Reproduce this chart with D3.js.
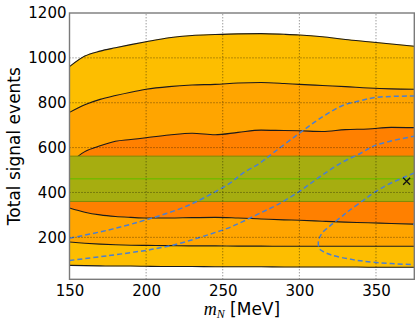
<!DOCTYPE html>
<html>
<head>
<meta charset="utf-8">
<script src="https://cdn.jsdelivr.net/npm/d3@7"></script>
<style>
  body { margin: 0; background: #fff; }
  svg { display: block; font-family: "DejaVu Sans", sans-serif; }
</style>
</head>
<body>
<main></main>
<script>
// mass grid shared by the contour lines
const massGrid = [150, 160, 170, 180, 190, 200, 215, 230, 245, 260, 275, 290, 300, 315, 330, 345, 360, 375]

// contour levels, outermost upper to outermost lower
const upper3 = [961, 1008, 1030, 1045, 1059, 1072, 1090, 1100, 1104, 1107, 1108, 1105, 1102, 1094, 1082, 1072, 1062, 1052]
const upper2 = [757, 791, 815, 832, 847, 860, 872, 879, 882, 888, 890, 886, 882, 877, 872, 866, 862, 860]
const upper1 = [530, 582, 608, 628, 636, 644, 656, 664, 657, 668, 678, 676, 675, 672, 680, 683, 690, 689]
const lower1 = [331, 312, 300, 293, 289, 286, 286, 288, 289, 286, 282, 278, 276, 272, 268, 265, 262, 259]
const lower2 = [179, 174, 170, 167, 165, 164, 163, 162, 162, 161, 161, 160, 160, 160, 160, 160, 160, 160]
const lower3 = [75, 74, 73, 72, 72, 71, 70, 70, 69, 69, 69, 68, 68, 68, 68, 67, 67, 67]

// measured band
const measured = { central: 461, low: 360, high: 562 }

// dashed curves [mN, events]
const dashedUpper = [[150, 196], [175, 232], [196, 270], [209, 297], [222, 327], [233, 360], [244, 399],
  [255, 443], [263, 485], [274, 530], [284, 582], [300, 664], [313.5, 730], [329, 790], [340, 809], [350, 824], [375, 830]]
const dashedLower = [[150, 97], [175, 118], [200, 142], [205, 148], [218, 166], [231, 191], [242, 215], [253, 240],
  [263, 270], [274, 307], [285, 343], [300, 405], [313, 468], [327, 531], [340, 575], [350, 611], [375, 651]]
const dashedLoop = [[375, 487], [358, 436], [348, 396], [342, 366], [333, 322], [329, 300], [320, 251], [314.6, 217],
  [312.4, 180], [313, 151], [315.7, 136], [321, 121], [333, 103], [348, 89], [375, 78]]
const dashedTip = [[376.5, 268], [374.6, 258], [376.5, 248]]

const bestFit = [370, 450]

const xTicks = [150, 200, 250, 300, 350]
const yTicks = [200, 400, 600, 800, 1000, 1200]

const light = "#fdbe00"
const mid = "#ffa500"
const dark = "#ff8000"

const w = 420
const h = 326
const margin = { top: 13, right: 5.7, bottom: 46.7, left: 69.5 }

const svg = d3.select("main").append("svg").attr("width", w).attr("height", h)

const x = d3.scaleLinear().domain([150, 375]).range([margin.left, w - margin.right])
const y = d3.scaleLinear().domain([13, 1200]).range([h - margin.bottom, margin.top])

svg.append("clipPath").attr("id", "plot")
  .append("rect")
  .attr("x", x.range()[0]).attr("y", y.range()[1])
  .attr("width", x.range()[1] - x.range()[0])
  .attr("height", y.range()[0] - y.range()[1])

const plot = svg.append("g").attr("clip-path", "url(#plot)")

// filled bands between adjacent contours
const bands = [
  [upper3, upper2, light],
  [upper2, upper1, mid],
  [upper1, lower1, dark],
  [lower1, lower2, mid],
  [lower2, lower3, light],
]

const area = (top, bottom) => d3.area()
  .x((d, i) => x(massGrid[i]))
  .y0((d, i) => y(bottom[i]))
  .y1((d, i) => y(top[i]))
  .curve(d3.curveMonotoneX)(massGrid)

plot.selectAll(".band")
  .data(bands)
  .enter()
  .append("path")
  .attr("class", "band")
  .attr("d", (d) => area(d[0], d[1]))
  .attr("fill", (d) => d[2])
  .attr("stroke", (d) => d[2])
  .attr("stroke-width", 0.6)

const contourLine = d3.line()
  .x((d, i) => x(massGrid[i]))
  .y((d) => y(d))
  .curve(d3.curveMonotoneX)

plot.selectAll(".contour")
  .data([upper3, upper2, upper1, lower1, lower2, lower3])
  .enter()
  .append("path")
  .attr("d", contourLine)
  .attr("fill", "none")
  .attr("stroke", "#1a1a1a")
  .attr("stroke-width", 1.1)

// measured band
plot.append("rect")
  .attr("x", x(150))
  .attr("width", x(375) - x(150))
  .attr("y", y(measured.high))
  .attr("height", y(measured.low) - y(measured.high))
  .attr("fill", "#a6ad10")
  .attr("stroke", "#7f8a08")
  .attr("stroke-width", 1)

plot.append("line")
  .attr("x1", x(150)).attr("x2", x(375))
  .attr("y1", y(measured.central)).attr("y2", y(measured.central))
  .attr("stroke", "#76b800")
  .attr("stroke-width", 1.5)

// grid
const grid = svg.append("g")
  .attr("stroke", "#000")
  .attr("stroke-opacity", 0.7)
  .attr("stroke-width", 0.8)
  .attr("stroke-dasharray", "1,2")

grid.selectAll(".gx")
  .data(xTicks.slice(1))
  .enter()
  .append("line")
  .attr("x1", (d) => x(d)).attr("x2", (d) => x(d))
  .attr("y1", y.range()[0]).attr("y2", y.range()[1])

grid.selectAll(".gy")
  .data(yTicks.slice(0, -1))
  .enter()
  .append("line")
  .attr("y1", (d) => y(d)).attr("y2", (d) => y(d))
  .attr("x1", x.range()[0]).attr("x2", x.range()[1])

// dashed curves
const curveLine = d3.line()
  .x((d) => x(d[0]))
  .y((d) => y(d[1]))
  .curve(d3.curveCatmullRom)

plot.selectAll(".dashed")
  .data([dashedUpper, dashedLower, dashedLoop, dashedTip])
  .enter()
  .append("path")
  .attr("d", curveLine)
  .attr("fill", "none")
  .attr("stroke", "#4a7fd2")
  .attr("stroke-width", 1.5)
  .attr("stroke-dasharray", "5,3")

// best fit marker
plot.append("path")
  .attr("transform", `translate(${x(bestFit[0])}, ${y(bestFit[1])})`)
  .attr("d", "M-3.5,-3.5L3.5,3.5M-3.5,3.5L3.5,-3.5")
  .attr("stroke", "#111")
  .attr("stroke-width", 1.3)

// frame
svg.append("rect")
  .attr("x", x.range()[0]).attr("y", y.range()[1])
  .attr("width", x.range()[1] - x.range()[0])
  .attr("height", y.range()[0] - y.range()[1])
  .attr("fill", "none")
  .attr("stroke", "#7a7a7a")
  .attr("stroke-width", 1.4)

// axes
const xAxis = d3.axisBottom(x).tickValues(xTicks).tickFormat(d3.format("d")).tickSize(0).tickPadding(6)
const yAxis = d3.axisLeft(y).tickValues(yTicks).tickFormat(d3.format("d")).tickSize(0).tickPadding(3)

const gx = svg.append("g")
  .attr("transform", `translate(0, ${y.range()[0]})`)
  .call(xAxis)
const gy = svg.append("g")
  .attr("transform", `translate(${x.range()[0]}, 0)`)
  .call(yAxis)

for (const g of [gx, gy]) {
  g.select(".domain").remove()
  g.selectAll("text")
    .attr("font-family", "DejaVu Sans")
    .attr("font-size", 15)
    .attr("fill", "#000")
}

// axis titles
svg.append("text")
  .attr("transform", `translate(20, ${(y.range()[0] + y.range()[1]) / 2}) rotate(-90)`)
  .attr("text-anchor", "middle")
  .attr("font-size", 17)
  .text("Total signal events")

const xTitle = svg.append("text")
  .attr("x", (x.range()[0] + x.range()[1]) / 2)
  .attr("y", 315)
  .attr("text-anchor", "middle")
  .attr("font-size", 17)

xTitle.append("tspan")
  .attr("font-family", "Liberation Serif")
  .attr("font-style", "italic")
  .attr("font-size", 18)
  .text("m")
xTitle.append("tspan")
  .attr("font-family", "Liberation Serif")
  .attr("font-style", "italic")
  .attr("font-size", 12)
  .attr("dy", 3)
  .text("N")
xTitle.append("tspan")
  .attr("dy", -3)
  .text(" [MeV]")
</script>
</body>
</html>
